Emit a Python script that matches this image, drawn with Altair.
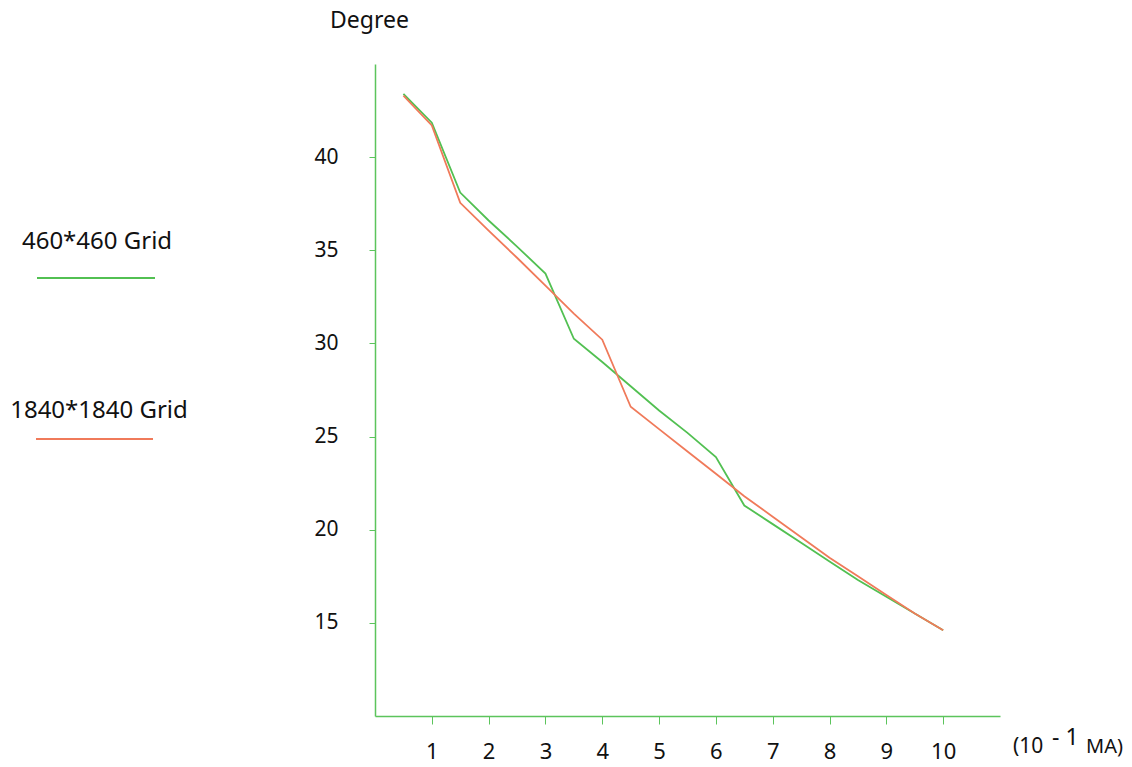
import altair as alt
import pandas as pd

current = [0.5, 1, 1.5, 2, 2.5, 3, 3.5, 4, 4.5, 5, 5.5, 6, 6.5, 7, 7.5, 8, 8.5, 9, 9.5, 10]
grid_460 = [43.4, 41.85, 38.1, 36.6, 35.2, 33.75, 30.25, 29.0, 27.7, 26.4, 25.2, 23.9,
            21.3, 20.3, 19.3, 18.3, 17.3, 16.4, 15.5, 14.6]
grid_1840 = [43.3, 41.7, 37.55, 36.05, 34.6, 33.1, 31.6, 30.2, 26.6, 25.4, 24.2, 23.0,
             21.8, 20.7, 19.6, 18.5, 17.5, 16.5, 15.5, 14.6]
series_names = ["460*460 Grid", "1840*1840 Grid"]
series_colors = ["#52c052", "#f07a5a"]
x_ticks = [1, 2, 3, 4, 5, 6, 7, 8, 9, 10]
y_ticks = [15, 20, 25, 30, 35, 40]

FONT = "Noto Sans"
AXIS_GREEN = "#5cc45c"

df = pd.DataFrame({
    "current": current * 2,
    "degree": grid_460 + grid_1840,
    "series": [series_names[0]] * len(current) + [series_names[1]] * len(current),
})

lines = alt.Chart(df).mark_line(strokeWidth=1.8).encode(
    x=alt.X("current:Q", scale=alt.Scale(domain=[0, 11], nice=False, zero=False),
            axis=alt.Axis(values=x_ticks, title=None, grid=False, tickSize=8,
                          labelPadding=17, labelFontSize=22, labelColor="#111",
                          labelFont=FONT, domainColor=AXIS_GREEN, tickColor=AXIS_GREEN,
                          domainWidth=1.5, labelFlush=False)),
    y=alt.Y("degree:Q", scale=alt.Scale(domain=[10, 45], nice=False, zero=False),
            axis=alt.Axis(values=y_ticks, title="Degree", grid=False, tickSize=6,
                          labelPadding=31, labelFontSize=21, labelColor="#111",
                          labelFont=FONT, domainColor=AXIS_GREEN, tickColor=AXIS_GREEN,
                          domainWidth=1.5, titleAngle=0, titleX=-6, titleY=-44,
                          titleAlign="center", titleBaseline="middle", titleFontSize=23,
                          titleFontWeight="normal", titleFont=FONT, titleColor="#111")),
    color=alt.Color("series:N", scale=alt.Scale(domain=series_names, range=series_colors),
                    legend=None),
    detail="series:N",
)

layers = [lines]

legend_pos = [(-278, 178, -338, -220, 214), (-276, 347, -339, -222, 375)]
for name, col, (tx, ty, rx1, rx2, ry) in zip(series_names, series_colors, legend_pos):
    ldf = pd.DataFrame({"label": [name]})
    layers.append(alt.Chart(ldf).mark_text(fontSize=24, font=FONT, color="#111",
                                           align="center", baseline="middle").encode(
        text="label:N", x=alt.value(tx), y=alt.value(ty)))
    layers.append(alt.Chart(ldf).mark_rule(color=col, strokeWidth=1.8).encode(
        x=alt.value(rx1), x2=alt.value(rx2), y=alt.value(ry)))

unit_parts = [("(10", 21, 638, 683), ("- 1", 23, 677, 674), ("MA)", 20, 711, 683)]
for txt, fs, tx, ty in unit_parts:
    udf = pd.DataFrame({"t": [txt]})
    layers.append(alt.Chart(udf).mark_text(fontSize=fs, font=FONT, color="#111",
                                           align="left", baseline="middle").encode(
        text="t:N", x=alt.value(tx), y=alt.value(ty)))

chart = alt.layer(*layers).properties(
    width=625, height=652,
    autosize=alt.AutoSizeParams(type="none"),
    padding={"left": 367, "top": 56, "right": 124, "bottom": 50},
    background="white",
).configure_view(stroke=None)

chart.save("out.html", embed_options={"renderer": "svg", "actions": False})
